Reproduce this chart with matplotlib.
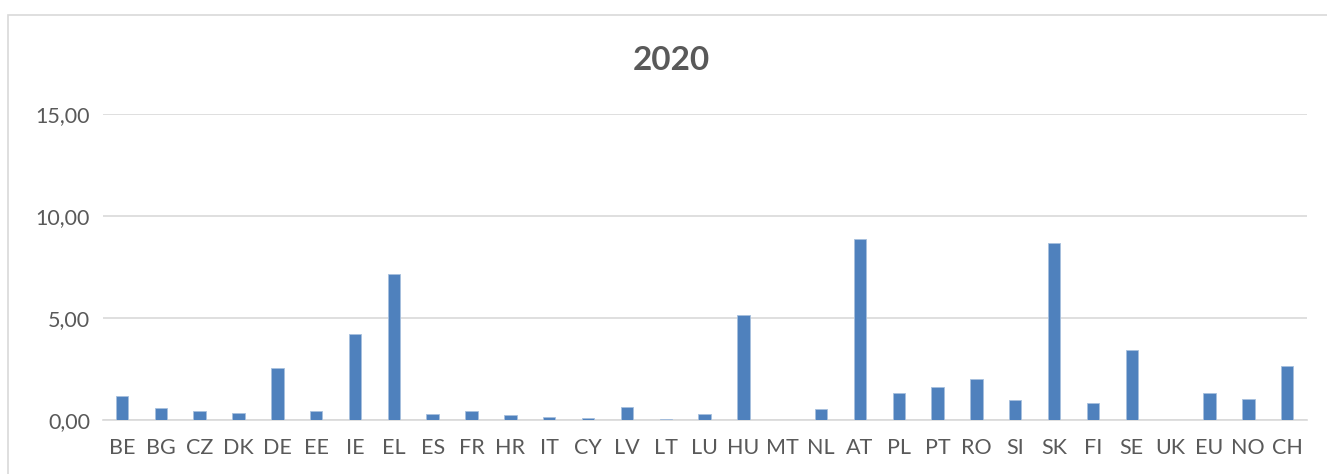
import numpy as np
import matplotlib.pyplot as plt
from matplotlib.patches import Rectangle

# Country codes and 2020 values
countries = ['BE', 'BG', 'CZ', 'DK', 'DE', 'EE', 'IE', 'EL', 'ES', 'FR', 'HR',
             'IT', 'CY', 'LV', 'LT', 'LU', 'HU', 'MT', 'NL', 'AT', 'PL', 'PT',
             'RO', 'SI', 'SK', 'FI', 'SE', 'UK', 'EU', 'NO', 'CH']
values = [1.20, 0.60, 0.43, 0.36, 2.55, 0.46, 4.20, 7.17, 0.30, 0.45, 0.27,
          0.13, 0.08, 0.66, 0.03, 0.30, 5.17, 0.00, 0.55, 8.88, 1.30, 1.60,
          2.00, 1.00, 8.68, 0.82, 3.45, 0.00, 1.33, 1.03, 2.65]
yticks = [0, 5, 10, 15]
ytick_labels = ['0,00', '5,00', '10,00', '15,00']

plt.rcParams['font.family'] = ['Lato', 'DejaVu Sans']
text_color = '#595959'

fig = plt.figure(figsize=(13.27, 4.74), dpi=100)
ax = fig.add_axes([0.0773, 0.1139, 0.9073, 0.6456])

x = np.arange(len(countries))
ax.bar(x, values, width=0.32, color='#4F81BD', edgecolor='#A7C0DE', linewidth=0.6, zorder=3)

ax.set_xlim(-0.5, len(countries) - 0.5)
ax.set_ylim(0, 15)
ax.set_yticks(yticks)
ax.set_yticklabels(ytick_labels)
ax.set_xticks(x)
ax.set_xticklabels(countries)
ax.tick_params(axis='both', length=0, labelsize=15.5, colors=text_color)
ax.tick_params(axis='x', pad=13)
ax.tick_params(axis='y', pad=9)
ax.grid(axis='y', color='#D9D9D9', lw=1.2, zorder=0)
for s in ['top', 'right', 'left']:
    ax.spines[s].set_visible(False)
ax.spines['bottom'].set_color('#D9D9D9')
ax.spines['bottom'].set_linewidth(1.2)

fig.text(0.506, 0.873, '2020', ha='center', va='center', fontsize=24,
         fontweight='bold', color=text_color)

# chart border
fig.patches.append(Rectangle((8 / 1327, -0.1), 1.1, 1.1 - 15 / 474 + 0.001,
                             transform=fig.transFigure, fill=False,
                             edgecolor='#D9D9D9', lw=1.2))

fig.savefig('out.png', dpi=100)
